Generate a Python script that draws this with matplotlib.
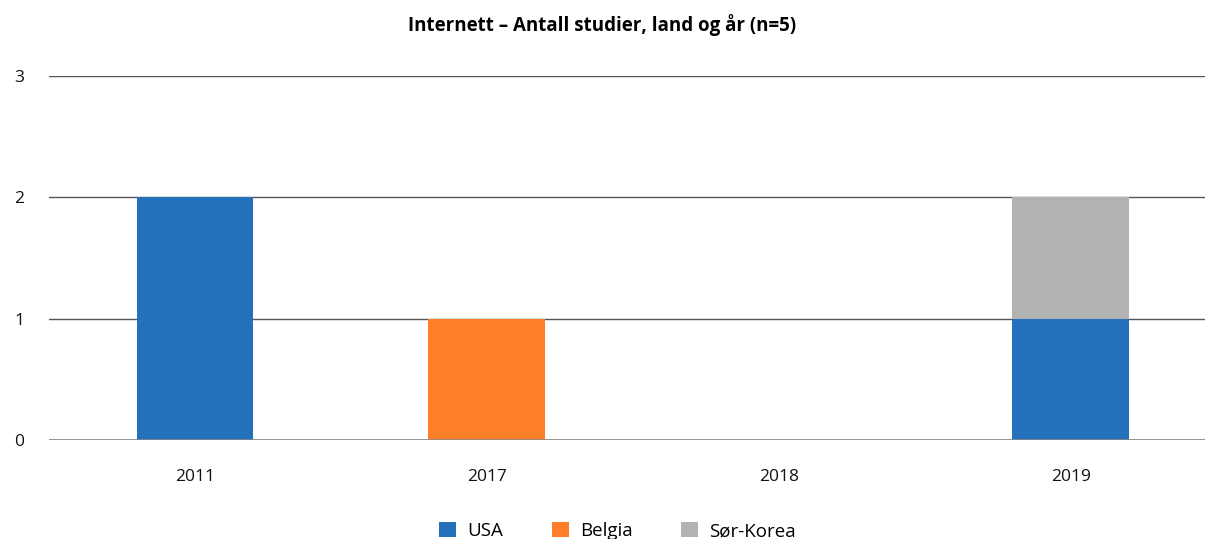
import matplotlib
matplotlib.use("Agg")
import matplotlib.pyplot as plt
import numpy as np
from matplotlib.patches import Patch

years = ["2011", "2017", "2018", "2019"]
usa = [2, 0, 0, 1]
belgia = [0, 1, 0, 0]
sor_korea = [0, 0, 0, 1]
series_names = ["USA", "Belgia", "Sør-Korea"]
colors = ["#2371BB", "#FE7F27", "#B3B2B2"]

plt.rcParams['font.family'] = ['Open Sans', 'DejaVu Sans']

fig = plt.figure(figsize=(12.05, 5.39), dpi=100)
ax = fig.add_axes([49/1205, 1 - 440/539, 1 - 49/1205, (440-76)/539])

x = np.arange(len(years))
w = 0.4
bottom = np.zeros(len(years))
for vals, c in zip([usa, belgia, sor_korea], colors):
    v = np.array(vals, dtype=float)
    ax.bar(x, v, w, bottom=bottom, color=c, zorder=3)
    bottom += v

ax.set_ylim(0, 3)
ax.set_xlim(-0.5, 3.46)
ax.set_yticks([0, 1, 2, 3])
ax.set_xticks(x)
ax.set_xticklabels(years)
ax.yaxis.grid(True, color="#555555", linewidth=1.0, zorder=0)
ax.set_axisbelow(True)
for s in ax.spines.values():
    s.set_visible(False)
ax.tick_params(axis='both', length=0, labelsize=12.5, colors="#111111")
ax.tick_params(axis='x', pad=21)
ax.tick_params(axis='y', pad=25)
for lbl in ax.get_yticklabels():
    lbl.set_horizontalalignment('left')
ax.axhline(0, color="#888888", linewidth=1.2, zorder=4)

fig.text(0.5, 1 - 25/539, "Internett – Antall studier, land og år (n=5)",
         ha='center', va='center', fontsize=13.5, fontweight='bold')

handles = [Patch(facecolor=c, label=n) for n, c in zip(series_names, colors)]
fig.legend(handles=handles, loc='center', bbox_to_anchor=(0.5 + 15/1205, 1 - 531/539),
           ncol=3, frameon=False, fontsize=13.5, handlelength=0.9, handleheight=0.9,
           columnspacing=2.6, handletextpad=0.6)

fig.savefig("out.png", dpi=100)
